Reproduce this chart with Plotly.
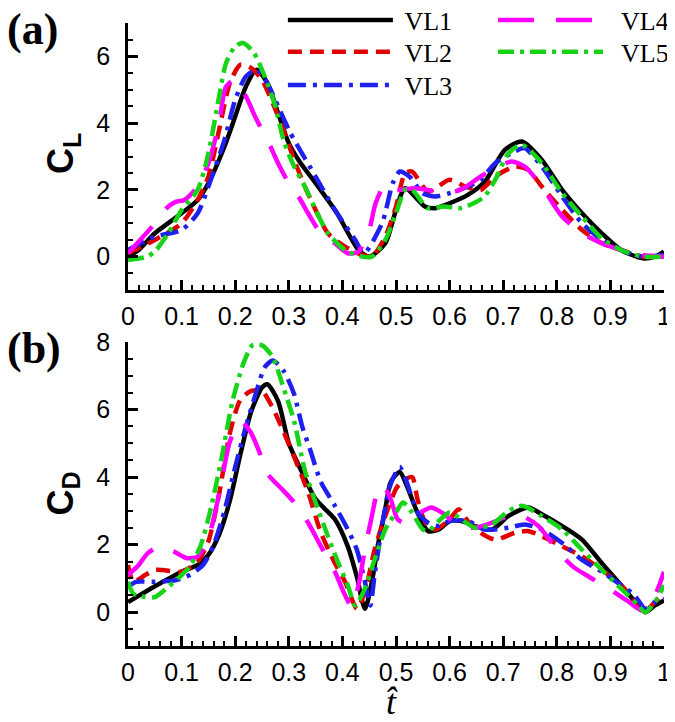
import plotly.graph_objects as go

# ---------------- data: lift coefficient C_L ----------------
cl_vl1_t = [0, 0.02, 0.05, 0.1, 0.13, 0.15, 0.18, 0.2, 0.22, 0.24, 0.26, 0.28, 0.30, 0.32, 0.35, 0.39, 0.43, 0.45, 0.48, 0.50, 0.517, 0.554, 0.573, 0.60, 0.634, 0.666, 0.703, 0.735, 0.772, 0.81, 0.847, 0.884, 0.92, 0.96, 0.983, 1.0]
cl_vl1 = [0.0, 0.2, 0.7, 1.3, 1.7, 2.2, 3.3, 4.2, 5.1, 5.6, 5.2, 4.3, 3.4, 2.85, 2.2, 1.3, 0.2, 0.0, 0.4, 1.4, 2.05, 1.5, 1.45, 1.6, 1.85, 2.25, 3.2, 3.45, 2.9, 2.0, 1.3, 0.7, 0.2, -0.05, 0.0, 0.15]

cl_vl2_t = [0, 0.05, 0.1, 0.13, 0.15, 0.17, 0.19, 0.21, 0.23, 0.25, 0.27, 0.29, 0.31, 0.33, 0.35, 0.373, 0.405, 0.437, 0.455, 0.48, 0.50, 0.517, 0.53, 0.56, 0.60, 0.63, 0.658, 0.685, 0.722, 0.747, 0.772, 0.81, 0.847, 0.884, 0.92, 0.96, 1.0]
cl_vl2 = [0.1, 0.5, 1.0, 1.7, 2.4, 3.8, 5.2, 5.75, 5.65, 5.3, 4.6, 3.8, 2.9, 2.1, 1.4, 0.7, 0.3, 0.05, 0.0, 0.6, 1.5, 2.5, 2.55, 1.95, 2.3, 2.1, 2.0, 2.4, 2.7, 2.6, 2.1, 1.4, 0.8, 0.4, 0.2, 0.0, 0.0]

cl_vl3_t = [0, 0.05, 0.1, 0.13, 0.15, 0.18, 0.2, 0.22, 0.24, 0.26, 0.28, 0.30, 0.31, 0.35, 0.386, 0.424, 0.44, 0.474, 0.494, 0.507, 0.525, 0.55, 0.573, 0.60, 0.634, 0.658, 0.685, 0.722, 0.74, 0.772, 0.81, 0.847, 0.884, 0.92, 0.96, 1.0]
cl_vl3 = [0.2, 0.6, 0.8, 1.3, 2.1, 3.5, 4.7, 5.4, 5.6, 5.2, 4.5, 3.8, 3.5, 2.4, 1.4, 0.5, 0.1, 1.0, 2.2, 2.55, 2.4, 1.9, 1.8, 1.9, 2.1, 2.3, 2.8, 3.15, 3.25, 2.7, 1.8, 1.0, 0.5, 0.2, 0.0, 0.05]

cl_vl4_t = [0, 0.045, 0.075, 0.09, 0.105, 0.13, 0.15, 0.17, 0.183, 0.2, 0.22, 0.24, 0.26, 0.28, 0.30, 0.32, 0.336, 0.36, 0.386, 0.41, 0.43, 0.45, 0.462, 0.48, 0.50, 0.535, 0.56, 0.59, 0.62, 0.658, 0.685, 0.716, 0.74, 0.772, 0.81, 0.847, 0.884, 0.92, 0.96, 1.0]
cl_vl4 = [0.1, 0.9, 1.5, 1.65, 1.7, 2.1, 2.8, 4.0, 5.1, 5.3, 4.8, 4.1, 3.5, 2.8, 2.2, 1.75, 1.3, 0.7, 0.4, 0.1, 0.15, 0.8, 1.6, 2.15, 2.0, 2.05, 2.0, 1.9, 2.0, 2.4, 2.65, 2.85, 2.7, 2.1, 1.2, 0.7, 0.4, 0.2, 0.05, 0.0]

cl_vl5_t = [0, 0.035, 0.05, 0.075, 0.1, 0.13, 0.15, 0.17, 0.183, 0.2, 0.215, 0.235, 0.255, 0.275, 0.29, 0.31, 0.33, 0.35, 0.373, 0.405, 0.437, 0.455, 0.48, 0.50, 0.517, 0.53, 0.55, 0.56, 0.59, 0.62, 0.645, 0.665, 0.685, 0.71, 0.735, 0.772, 0.81, 0.847, 0.884, 0.92, 0.96, 1.0]
cl_vl5 = [-0.1, 0.0, 0.15, 0.7, 1.4, 2.0, 3.1, 4.8, 5.8, 6.3, 6.4, 6.1, 5.4, 4.5, 3.5, 2.7, 2.1, 1.4, 0.7, 0.2, 0.0, 0.0, 0.5, 1.3, 2.0, 2.0, 1.6, 1.45, 1.5, 1.45, 1.6, 1.8, 2.3, 3.1, 3.35, 2.8, 1.9, 1.2, 0.55, 0.2, 0.0, 0.0]

# ---------------- data: drag coefficient C_D ----------------
cd_vl1_t = [0, 0.032, 0.065, 0.1, 0.13, 0.15, 0.17, 0.19, 0.21, 0.23, 0.25, 0.26, 0.28, 0.30, 0.32, 0.35, 0.386, 0.41, 0.427, 0.442, 0.455, 0.467, 0.48, 0.49, 0.507, 0.52, 0.54, 0.56, 0.58, 0.60, 0.622, 0.647, 0.679, 0.71, 0.747, 0.772, 0.81, 0.847, 0.884, 0.92, 0.952, 0.965, 0.983, 1.0]
cd_vl1 = [0.3, 0.6, 0.9, 1.2, 1.4, 1.7, 2.3, 3.3, 4.7, 5.95, 6.65, 6.75, 6.25, 5.0, 4.3, 3.35, 2.75, 1.95, 1.05, 0.1, 0.9, 2.05, 3.05, 3.85, 4.15, 3.75, 2.95, 2.4, 2.45, 2.7, 2.7, 2.55, 2.45, 2.85, 3.1, 2.9, 2.55, 2.15, 1.45, 0.8, 0.2, 0.0, 0.2, 0.35]

cd_vl2_t = [0, 0.01, 0.032, 0.05, 0.065, 0.1, 0.13, 0.15, 0.17, 0.19, 0.21, 0.23, 0.25, 0.27, 0.29, 0.31, 0.336, 0.36, 0.386, 0.405, 0.42, 0.427, 0.442, 0.46, 0.48, 0.50, 0.51, 0.53, 0.54, 0.555, 0.573, 0.60, 0.617, 0.634, 0.658, 0.685, 0.722, 0.747, 0.772, 0.81, 0.847, 0.884, 0.92, 0.952, 0.965, 0.983, 1.0]
cd_vl2 = [1.4, 0.9, 1.1, 1.25, 1.25, 1.2, 1.5, 2.1, 3.5, 5.3, 6.3, 6.55, 6.55, 6.05, 5.35, 4.6, 3.55, 2.35, 1.45, 0.9, 0.3, 0.1, 0.6, 1.85, 2.85, 3.65, 3.85, 4.0, 3.35, 2.65, 2.45, 2.75, 3.05, 2.7, 2.35, 2.15, 2.35, 2.4, 2.25, 1.95, 1.65, 1.25, 0.8, 0.2, 0.05, 0.3, 0.6]

cd_vl3_t = [0, 0.015, 0.05, 0.09, 0.115, 0.14, 0.16, 0.18, 0.2, 0.22, 0.24, 0.255, 0.27, 0.29, 0.31, 0.325, 0.34, 0.36, 0.386, 0.41, 0.427, 0.442, 0.452, 0.46, 0.474, 0.487, 0.50, 0.507, 0.52, 0.54, 0.56, 0.58, 0.60, 0.634, 0.665, 0.71, 0.74, 0.772, 0.81, 0.847, 0.884, 0.92, 0.945, 0.965, 0.983, 1.0]
cd_vl3 = [0.75, 0.9, 0.9, 0.95, 1.1, 1.4, 2.0, 3.0, 4.3, 5.5, 6.55, 7.25, 7.45, 7.15, 6.45, 5.5, 4.8, 3.85, 3.15, 2.45, 1.85, 0.9, 0.2, 1.1, 2.55, 3.65, 4.15, 4.3, 3.85, 2.95, 2.65, 2.55, 2.7, 2.7, 2.45, 2.5, 2.6, 2.45, 2.05, 1.55, 1.2, 0.8, 0.5, 0.1, 0.3, 0.4]

cd_vl4_t = [0, 0.02, 0.037, 0.06, 0.085, 0.11, 0.13, 0.15, 0.17, 0.19, 0.21, 0.228, 0.245, 0.26, 0.29, 0.31, 0.336, 0.36, 0.386, 0.405, 0.418, 0.43, 0.442, 0.455, 0.467, 0.476, 0.49, 0.503, 0.515, 0.54, 0.566, 0.59, 0.617, 0.647, 0.679, 0.71, 0.735, 0.766, 0.8, 0.83, 0.86, 0.897, 0.935, 0.96, 0.983, 1.0]
cd_vl4 = [1.1, 1.4, 1.75, 1.95, 1.8, 1.6, 1.65, 2.2, 3.5, 5.05, 5.65, 5.35, 4.75, 4.1, 3.6, 3.25, 2.65, 1.95, 1.2, 0.5, 0.15, 0.8, 1.85, 2.85, 3.65, 3.75, 3.35, 2.75, 2.65, 2.9, 3.1, 2.9, 2.55, 2.5, 2.65, 2.85, 2.85, 2.55, 1.85, 1.35, 1.05, 0.7, 0.3, 0.05, 0.5, 1.2]

cd_vl5_t = [0, 0.01, 0.032, 0.05, 0.075, 0.1, 0.115, 0.135, 0.155, 0.175, 0.195, 0.215, 0.232, 0.25, 0.27, 0.29, 0.31, 0.33, 0.35, 0.373, 0.39, 0.41, 0.424, 0.442, 0.46, 0.48, 0.50, 0.513, 0.53, 0.55, 0.56, 0.58, 0.60, 0.622, 0.647, 0.679, 0.71, 0.735, 0.772, 0.81, 0.847, 0.884, 0.92, 0.952, 0.965, 0.983, 1.0]
cd_vl5 = [0.9, 0.55, 0.45, 0.45, 0.75, 1.1, 1.35, 1.95, 3.1, 4.6, 6.25, 7.35, 7.9, 7.9, 7.55, 6.65, 5.65, 4.2, 3.25, 2.25, 1.55, 0.8, 0.2, 0.7, 1.55, 2.45, 2.95, 3.25, 2.95, 2.45, 2.4, 2.7, 2.95, 2.75, 2.5, 2.6, 3.0, 3.15, 2.85, 2.45, 1.85, 1.25, 0.7, 0.2, 0.0, 0.3, 0.8]

series_names = ["VL1", "VL2", "VL3", "VL4", "VL5"]
x_ticks = [0, 0.1, 0.2, 0.3, 0.4, 0.5, 0.6, 0.7, 0.8, 0.9, 1]
x_tick_text = ["0", "0.1", "0.2", "0.3", "0.4", "0.5", "0.6", "0.7", "0.8", "0.9", "1"]
cl_ticks = [0, 2, 4, 6]
cd_ticks = [0, 2, 4, 6, 8]

# ---------------- styles ----------------
colors = ["#000000", "#e00000", "#1f1fee", "#ff00ff", "#18d418"]
dashes = ["solid", "14px,8px", "18px,7px,4px,7px", "36px,22px", "16px,6px,4px,6px"]
widths = [4.5, 4.5, 4.5, 4.5, 4.5]
legend_ids = ["legend", "legend2", "legend3", "legend4", "legend5"]
legend_pad = ["\u00a0", "\u00a0", "\u00a0", "\u00a0\u00a0", "\u00a0\u00a0"]
legend_x = [0.289, 0.289, 0.289, 0.681, 0.681]
legend_y = [1.0048, 0.9535, 0.9005, 1.0048, 0.9535]

cl_data = [(cl_vl1_t, cl_vl1), (cl_vl2_t, cl_vl2), (cl_vl3_t, cl_vl3), (cl_vl4_t, cl_vl4), (cl_vl5_t, cl_vl5)]
cd_data = [(cd_vl1_t, cd_vl1), (cd_vl2_t, cd_vl2), (cd_vl3_t, cd_vl3), (cd_vl4_t, cd_vl4), (cd_vl5_t, cd_vl5)]

fig = go.Figure()
for i, name in enumerate(series_names):
    t, v = cl_data[i]
    fig.add_trace(go.Scatter(
        x=t, y=v, mode="lines", name=legend_pad[i] + name, xaxis="x", yaxis="y",
        line=dict(color=colors[i], width=widths[i], dash=dashes[i], shape="spline", smoothing=0.7),
        legend=legend_ids[i], showlegend=True))
for i, name in enumerate(series_names):
    t, v = cd_data[i]
    fig.add_trace(go.Scatter(
        x=t, y=v, mode="lines", name=name, xaxis="x2", yaxis="y2",
        line=dict(color=colors[i], width=widths[i], dash=dashes[i], shape="spline", smoothing=0.7),
        showlegend=False))

tick_font = dict(family="Liberation Sans, Arial", size=25, color="black")

def xaxis_cfg(anchor):
    return dict(
        anchor=anchor, domain=[0, 1], range=[0, 1],
        tickmode="array", tickvals=x_ticks, ticktext=x_tick_text,
        ticks="inside", ticklen=10, tickwidth=2.5, tickcolor="black",
        minor=dict(dtick=0.02, tick0=0, ticks="inside", ticklen=5, tickwidth=1.5, tickcolor="black", showgrid=False),
        showline=True, linecolor="black", linewidth=2.5, mirror=False,
        showgrid=False, zeroline=False, tickfont=tick_font, ticklabelstandoff=2,
    )

def yaxis_cfg(anchor, domain, rng, ticks):
    return dict(
        anchor=anchor, domain=domain, range=rng,
        tickmode="array", tickvals=ticks,
        ticks="inside", ticklen=10, tickwidth=2.5, tickcolor="black",
        minor=dict(dtick=0.5, tick0=0, ticks="inside", ticklen=5, tickwidth=1.5, tickcolor="black", showgrid=False),
        showline=True, linecolor="black", linewidth=2.5, mirror=False,
        showgrid=False, zeroline=False, tickfont=tick_font, ticklabelstandoff=10,
    )

legend_font = dict(family="Liberation Serif, Times New Roman", size=26, color="black")

layout_legends = {}
for i, lid in enumerate(legend_ids):
    layout_legends[lid] = dict(x=legend_x[i], y=legend_y[i], xanchor="left", yanchor="middle",
                               bgcolor="rgba(0,0,0,0)", font=legend_font, itemwidth=105)

# page body has an 8px default margin, so the figure is sized 8px smaller
fig.update_layout(
    width=667, height=714,
    margin=dict(l=120, r=11, t=15, b=76, autoexpand=False),
    paper_bgcolor="white", plot_bgcolor="white",
    xaxis=xaxis_cfg("y"),
    yaxis=yaxis_cfg("x", [0.5714, 1.0], [-1, 7], cl_ticks),
    xaxis2=xaxis_cfg("y2"),
    yaxis2=yaxis_cfg("x2", [0.0, 0.488], [-1, 8], cd_ticks),
    showlegend=True,
    **layout_legends,
)

serif = "Liberation Serif, Times New Roman"
sans = "Liberation Sans, Arial"
annotations = [
    dict(text="<b>(a)</b>", xref="paper", yref="paper", x=-0.2295, y=0.99, xanchor="left", yanchor="middle",
         showarrow=False, font=dict(family=serif, size=44, color="black")),
    dict(text="<b>(b)</b>", xref="paper", yref="paper", x=-0.2295, y=0.478, xanchor="left", yanchor="middle",
         showarrow=False, font=dict(family=serif, size=44, color="black")),
    dict(text="<b>C<sub>L</sub></b>", xref="paper", yref="paper", x=-0.121, y=0.79, xanchor="center", yanchor="middle",
         textangle=-90, showarrow=False, font=dict(family=sans, size=36, color="black")),
    dict(text="<b>C<sub>D</sub></b>", xref="paper", yref="paper", x=-0.121, y=0.245, xanchor="center", yanchor="middle",
         textangle=-90, showarrow=False, font=dict(family=sans, size=36, color="black")),
    dict(text="<i>t\u0302</i>", xref="paper", yref="paper", x=0.493, y=-0.126, xanchor="center", yanchor="bottom",
         showarrow=False, font=dict(family=serif, size=36, color="black")),
]
fig.update_layout(annotations=annotations)

fig.write_html("out.html")
